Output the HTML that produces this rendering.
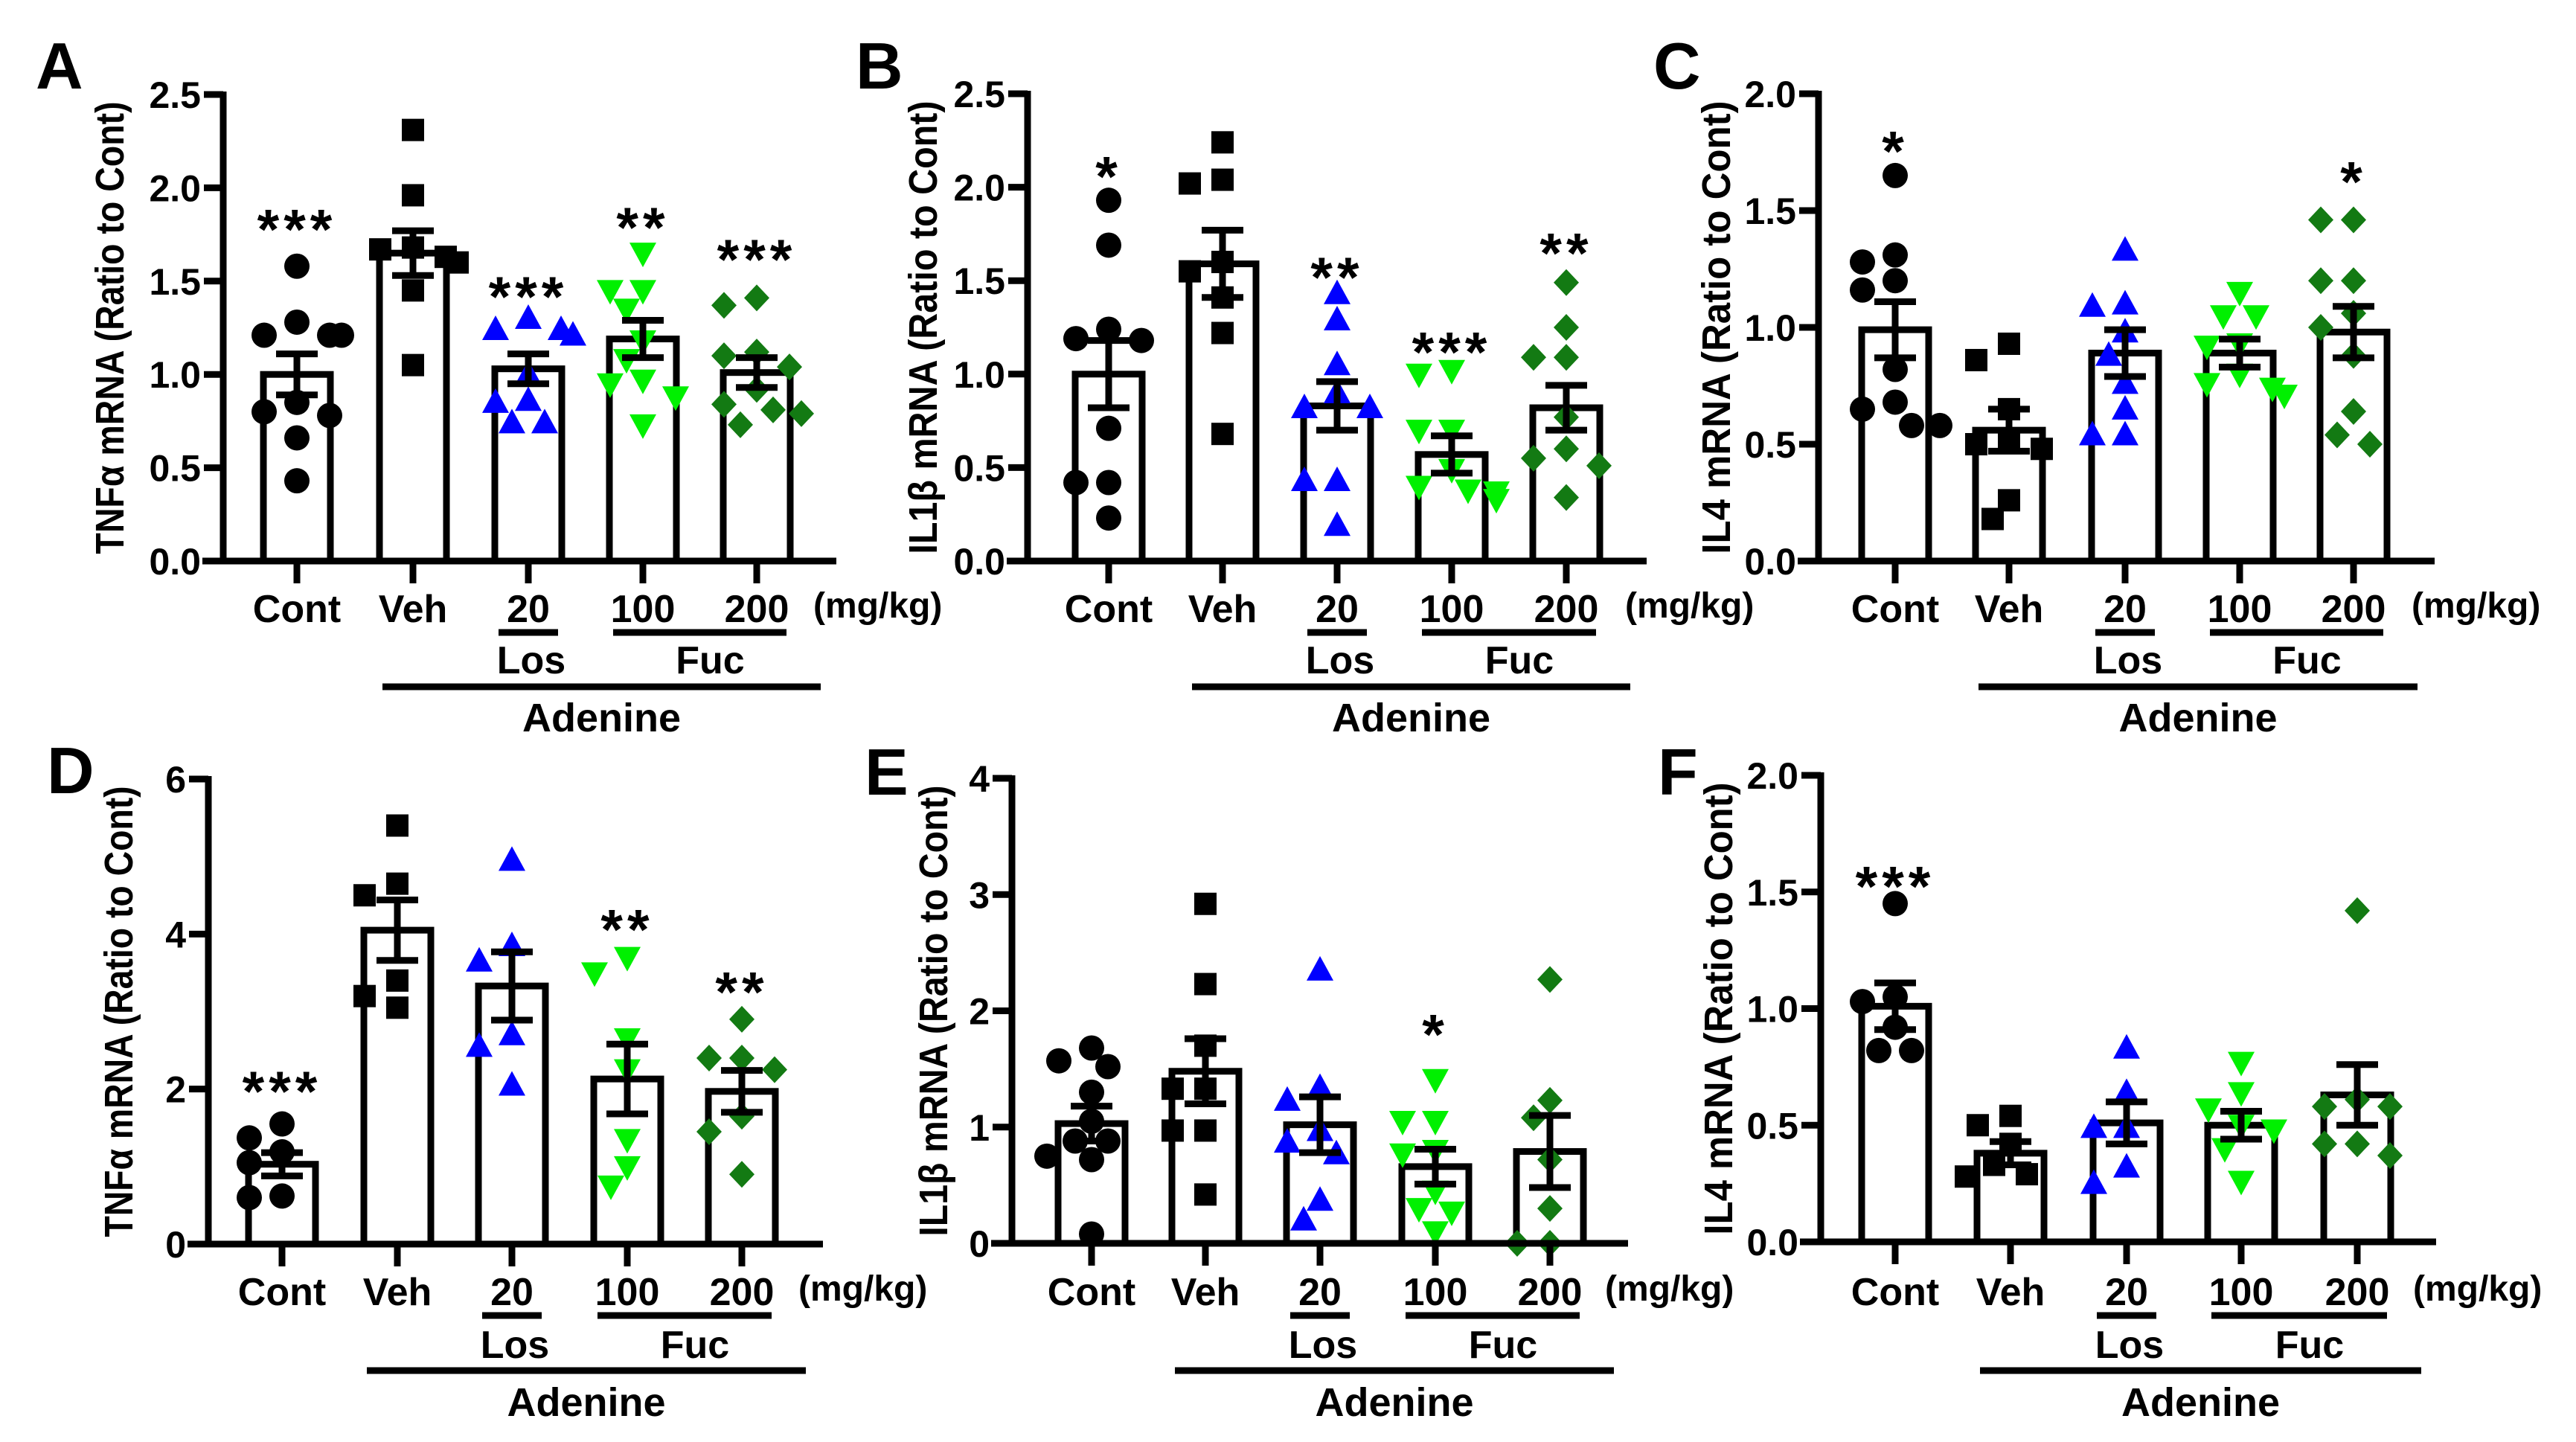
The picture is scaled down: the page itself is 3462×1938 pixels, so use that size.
<!DOCTYPE html>
<html><head><meta charset="utf-8"><style>
html,body{margin:0;padding:0;background:#fff;}
svg{display:block;font-family:"Liberation Sans",Arial,sans-serif;font-weight:bold;}
</style></head><body>
<svg id="fig" width="3462" height="1938" viewBox="0 0 3462 1938" xmlns="http://www.w3.org/2000/svg"></svg>
<script>
const categories = ["Cont","Veh","20","100","200"];
const groupKinds = ["circle","square","up","down","diamond"];
const groupColors = ["#000000","#000000","#0000ff","#00f000","#137a13"];

// Panel A: TNFa (row 1)
const aMeans = [1.00,1.65,1.03,1.19,1.01];
const aSems = [0.11,0.12,0.08,0.10,0.08];
const aPoints = [[1.58,1.28,1.21,1.21,1.21,0.85,0.80,0.78,0.66,0.43],[2.31,1.96,1.68,1.67,1.63,1.60,1.45,1.05],[1.30,1.24,1.24,1.21,1.00,0.86,0.85,0.74,0.74],[1.65,1.45,1.45,1.35,1.18,1.08,0.97,0.95,0.88,0.73],[1.41,1.37,1.12,1.10,1.04,0.92,0.84,0.81,0.79,0.73]];
const aStars = ["***","","***","**","***"];
const aStarVals = [1.86,0,1.50,1.87,1.70];
const aTicks = [0,0.5,1.0,1.5,2.0,2.5];
const aTickLabels = ["0.0","0.5","1.0","1.5","2.0","2.5"];

// Panel B: IL1b (row 1)
const bMeans = [1.00,1.59,0.83,0.57,0.82];
const bSems = [0.18,0.18,0.13,0.10,0.12];
const bPoints = [[1.93,1.69,1.24,1.19,1.18,0.71,0.42,0.42,0.23],[2.24,2.04,2.02,1.60,1.55,1.41,1.22,0.68],[1.43,1.29,1.05,0.90,0.82,0.82,0.43,0.43,0.19],[1.02,1.00,0.70,0.70,0.49,0.40,0.38,0.37,0.33],[1.49,1.25,1.09,1.09,0.77,0.60,0.55,0.51,0.34]];
const bStars = ["*","","**","***","**"];
const bStarVals = [2.14,0,1.60,1.20,1.73];
const bTicks = [0,0.5,1.0,1.5,2.0,2.5];
const bTickLabels = ["0.0","0.5","1.0","1.5","2.0","2.5"];

// Panel C: IL4 (row 1)
const cMeans = [0.99,0.56,0.89,0.89,0.98];
const cSems = [0.12,0.09,0.10,0.06,0.11];
const cPoints = [[1.65,1.31,1.28,1.20,1.16,0.82,0.68,0.65,0.58,0.58],[0.93,0.86,0.65,0.52,0.50,0.48,0.26,0.18],[1.33,1.10,1.09,0.98,0.88,0.76,0.65,0.54,0.54],[1.15,1.05,1.05,0.93,0.92,0.80,0.76,0.74,0.71],[1.46,1.46,1.20,1.20,1.06,1.00,0.88,0.64,0.54,0.50]];
const cStars = ["*","","","","*"];
const cStarVals = [1.82,0,0,0,1.69];
const cTicks = [0,0.5,1.0,1.5,2.0];
const cTickLabels = ["0.0","0.5","1.0","1.5","2.0"];

// Panel D: TNFa (row 2)
const dMeans = [1.03,4.05,3.33,2.13,1.97];
const dSems = [0.15,0.39,0.44,0.45,0.27];
const dPoints = [[1.55,1.37,1.19,1.05,0.62,0.60],[5.40,4.65,4.50,3.40,3.20,3.05],[4.95,3.85,3.65,2.70,2.55,2.05],[3.70,3.50,2.65,2.25,1.35,1.00,0.75],[2.90,2.40,2.40,2.25,1.65,1.45,0.90]];
const dStars = ["***","","","**","**"];
const dStarVals = [2.17,0,0,4.26,3.45];
const dTicks = [0,2,4,6];
const dTickLabels = ["0","2","4","6"];

// Panel E: IL1b (row 2)
const eMeans = [1.03,1.48,1.02,0.66,0.79];
const eSems = [0.15,0.28,0.24,0.15,0.31];
const ePoints = [[1.68,1.57,1.52,1.30,1.05,0.88,0.88,0.75,0.72,0.08],[2.92,2.23,1.70,1.33,1.33,0.97,0.97,0.42],[2.35,1.34,1.23,0.97,0.87,0.77,0.37,0.20],[1.41,1.05,1.05,0.80,0.77,0.45,0.30,0.27,0.10],[2.27,1.23,1.08,0.72,0.30,0.00,0.00]];
const eStars = ["","","","*",""];
const eStarVals = [0,0,0,1.93,0];
const eTicks = [0,1,2,3,4];
const eTickLabels = ["0","1","2","3","4"];

// Panel F: IL4 (row 2)
const fMeans = [1.01,0.38,0.51,0.50,0.63];
const fSems = [0.10,0.05,0.09,0.06,0.13];
const fPoints = [[1.45,1.05,1.03,0.92,0.82,0.82],[0.54,0.50,0.42,0.33,0.29,0.28],[0.83,0.64,0.49,0.49,0.32,0.25],[0.77,0.64,0.57,0.50,0.48,0.40,0.26],[1.42,0.61,0.58,0.58,0.42,0.42,0.37]];
const fStars = ["***","","","",""];
const fStarVals = [1.59,0,0,0,0];
const fTicks = [0,0.5,1.0,1.5,2.0];
const fTickLabels = ["0.0","0.5","1.0","1.5","2.0"];

const NS = "http://www.w3.org/2000/svg";
const svg = document.getElementById("fig");
function mk(tag, attrs, parent) {
  const e = document.createElementNS(NS, tag);
  for (const k in attrs) e.setAttribute(k, attrs[k]);
  (parent || svg).appendChild(e);
  return e;
}

const panels = [
  {id:"a",letter:"A",lx:48,ly:119,title:"TNFα mRNA (Ratio to Cont)",tx:148,ax:300,zero:754,top:127,ymax:2.5,cats:[399,555,710,864,1017],end:1124,mg:1093,row:0,means:aMeans,sems:aSems,pts:aPoints,stars:aStars,starVals:aStarVals,ticks:aTicks,tl:aTickLabels},
  {id:"b",letter:"B",lx:1150,ly:119,title:"IL1β mRNA (Ratio to Cont)",tx:1241,ax:1381,zero:754,top:126,ymax:2.5,cats:[1490,1643,1797,1951,2105],end:2213,mg:2184,row:0,means:bMeans,sems:bSems,pts:bPoints,stars:bStars,starVals:bStarVals,ticks:bTicks,tl:bTickLabels},
  {id:"c",letter:"C",lx:2222,ly:119,title:"IL4 mRNA (Ratio to Cont)",tx:2307,ax:2444,zero:754,top:126,ymax:2.0,cats:[2547,2700,2856,3010,3163],end:3272,mg:3241,row:0,means:cMeans,sems:cSems,pts:cPoints,stars:cStars,starVals:cStarVals,ticks:cTicks,tl:cTickLabels},
  {id:"d",letter:"D",lx:63,ly:1066,title:"TNFα mRNA (Ratio to Cont)",tx:160,ax:280,zero:1672,top:1047,ymax:6,cats:[379,534,688,843,997],end:1106,mg:1073,row:1,means:dMeans,sems:dSems,pts:dPoints,stars:dStars,starVals:dStarVals,ticks:dTicks,tl:dTickLabels},
  {id:"e",letter:"E",lx:1162,ly:1068,title:"IL1β mRNA (Ratio to Cont)",tx:1255,ax:1360,zero:1671,top:1046,ymax:4,cats:[1467,1620,1774,1929,2083],end:2188,mg:2157,row:1,means:eMeans,sems:eSems,pts:ePoints,stars:eStars,starVals:eStarVals,ticks:eTicks,tl:eTickLabels},
  {id:"f",letter:"F",lx:2228,ly:1068,title:"IL4 mRNA (Ratio to Cont)",tx:2310,ax:2447,zero:1669,top:1042,ymax:2.0,cats:[2547,2702,2858,3012,3168],end:3274,mg:3243,row:1,means:fMeans,sems:fSems,pts:fPoints,stars:fStars,starVals:fStarVals,ticks:fTicks,tl:fTickLabels}
];

function marker(g, kind, x, y, color) {
  const r = 17;
  let e;
  if (kind === "circle") e = mk("circle",{cx:x,cy:y,r:r,fill:color},g);
  else if (kind === "square") e = mk("rect",{x:x-15,y:y-15,width:30,height:30,fill:color},g);
  else if (kind === "up") e = mk("polygon",{points:`${x},${y-19} ${x+18},${y+14} ${x-18},${y+14}`,fill:color},g);
  else if (kind === "down") e = mk("polygon",{points:`${x},${y+19} ${x+18},${y-14} ${x-18},${y-14}`,fill:color},g);
  else e = mk("polygon",{points:`${x},${y-18} ${x+17},${y} ${x},${y+18} ${x-17},${y}`,fill:color},g);
  return e;
}

panels.forEach(p => {
  const g = mk("g",{});
  
  
  const yS = v => p.zero - (v / p.ymax) * (p.zero - p.top);
  const lab = p.row === 0 ? {cat:836,ul:850,sub:905,line:923,ad:983} : {cat:1754,ul:1768,sub:1825,line:1842,ad:1903};

  const L = mk("text",{x:p.lx,y:p.ly,"font-size":88},g);
  L.textContent = p.letter;
  
  

  const midY = (p.zero + p.top) / 2;
  const T = mk("text",{x:p.tx,y:midY,"font-size":54,"text-anchor":"middle","dominant-baseline":"central",transform:`rotate(-90 ${p.tx} ${midY})`,textLength:(p.zero-p.top)*0.97,lengthAdjust:"spacingAndGlyphs"},g);
  T.textContent = p.title;
  
  

  p.means.forEach((m, i) => {
    const cx = p.cats[i];
    const b = mk("rect",{x:cx-45,y:yS(m),width:90,height:p.zero-yS(m),fill:"#fff",stroke:"#000","stroke-width":9},g);
    
    
  });

  p.pts.forEach((arr, i) => {
    const cx = p.cats[i];
    const placed = [];
    arr.forEach(v => {
      const y = yS(v);
      const offs = [0,-22,22,-44,44,-60,60];
      let ox = 0;
      for (const o of offs) {
        if (placed.every(q => Math.hypot(q[0]-o, q[1]-y) >= 32)) { ox = o; break; }
        ox = o;
      }
      placed.push([ox, y]);
      const mEl = marker(g, groupKinds[i], cx + ox, y, groupColors[i]);
      
      
    });
  });

  p.means.forEach((m, i) => {
    const cx = p.cats[i];
    const hi = yS(m + p.sems[i]), lo = yS(Math.max(0, m - p.sems[i]));
    const eb = mk("path",{d:`M${cx},${hi}V${lo}M${cx-28},${hi}H${cx+28}M${cx-28},${lo}H${cx+28}`,stroke:"#000","stroke-width":9,fill:"none"},g);
    
    
    if (p.stars[i]) {
      const fs = 76;
      const s = mk("text",{x:cx,y:yS(p.starVals[i]) + 0.62*fs,"font-size":fs,"text-anchor":"middle","letter-spacing":6},g);
      s.textContent = p.stars[i];
      
      
    }
  });

  const ax = mk("path",{d:`M${p.ax},${p.top-4}V${p.zero}M${p.ax-28},${p.zero}H${p.end}`,stroke:"#000","stroke-width":9,fill:"none"},g);
  
  
  p.ticks.forEach((t, k) => {
    const y = yS(t);
    mk("line",{x1:p.ax-26,x2:p.ax,y1:y,y2:y,stroke:"#000","stroke-width":9},g);
    const tx = mk("text",{x:p.ax-30,y:y+18,"font-size":50,"text-anchor":"end"},g);
    tx.textContent = p.tl[k];
    
    
  });
  p.cats.forEach((cx, i) => {
    mk("line",{x1:cx,x2:cx,y1:p.zero,y2:p.zero+30,stroke:"#000","stroke-width":9},g);
    const c = mk("text",{x:cx,y:lab.cat,"font-size":52,"text-anchor":"middle"},g);
    c.textContent = categories[i];
    
    
  });
  const mg = mk("text",{x:p.mg,y:lab.cat-6,"font-size":48},g);
  mg.textContent = "(mg/kg)";
  
  

  const c = p.cats;
  mk("line",{x1:c[2]-40,x2:c[2]+40,y1:lab.ul,y2:lab.ul,stroke:"#000","stroke-width":9},g);
  mk("line",{x1:c[3]-40,x2:c[4]+40,y1:lab.ul,y2:lab.ul,stroke:"#000","stroke-width":9},g);
  const los = mk("text",{x:c[2]+4,y:lab.sub,"font-size":52,"text-anchor":"middle"},g);
  los.textContent = "Los";
  
  
  const fuc = mk("text",{x:(c[3]+c[4])/2+14,y:lab.sub,"font-size":52,"text-anchor":"middle"},g);
  fuc.textContent = "Fuc";
  
  
  mk("line",{x1:c[1]-41,x2:c[4]+86,y1:lab.line,y2:lab.line,stroke:"#000","stroke-width":9},g);
  const ad = mk("text",{x:(c[1]-41+c[4]+86)/2,y:lab.ad,"font-size":54,"text-anchor":"middle"},g);
  ad.textContent = "Adenine";
  
  
});
</script>
</body></html>
